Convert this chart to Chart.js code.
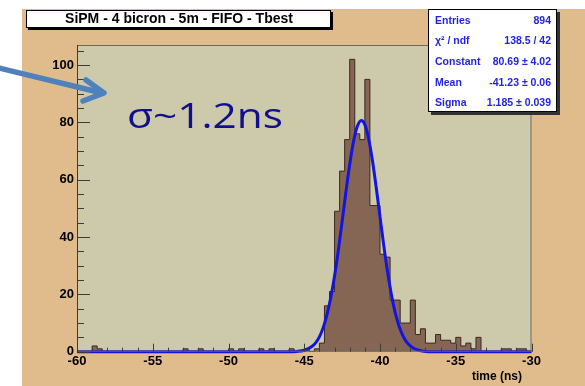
<!DOCTYPE html>
<html>
<head>
<meta charset="utf-8">
<script src="https://cdn.jsdelivr.net/npm/chart.js@4.4.1/dist/chart.umd.min.js"></script>
<style>
  html, body { margin: 0; padding: 0; background: #fff; }
  canvas { display: block; }
</style>
</head>
<body>
<canvas id="histo" width="585" height="386"></canvas>
<script>
// histogram: 90 bins of 1/3 ns between -60 and -30 ns
const binLow = -60;
const binWidth = 1 / 3;
const counts = [
  0, 0, 0, 2, 1, 0, 0, 0, 0, 0,
  0, 0, 0, 0, 0, 0, 0, 0, 0, 0,
  0, 1, 0, 0, 1, 0, 0, 0, 0, 0,
  1, 0, 1, 0, 0, 0, 1, 0, 1, 0,
  0, 0, 1, 0, 0, 1, 0, 1, 3, 16,
  21, 49, 63, 74, 102, 76, 74, 95, 51, 51,
  34, 33, 18, 18, 10, 10, 18, 6, 8, 3,
  3, 6, 4, 4, 3, 5, 2, 3, 1, 5,
  0, 0, 0, 0, 1, 1, 0, 1, 1, 0
];

// gaussian fit curve
const fitX = [-60, -47, -46, -45.5, -45, -44.5, -44.25, -44, -43.75, -43.5, -43.25, -43, -42.75, -42.5,
  -42.25, -42, -41.75, -41.5, -41.23, -41, -40.75, -40.5, -40.25, -40, -39.75, -39.5, -39.25, -39,
  -38.75, -38.5, -38.25, -38, -37.75, -37.5, -37, -36, -30];
const fitY = [0, 0, 0, 0.1, 0.5, 1.8, 3.1, 5.2, 8.4, 12.9, 18.9, 26.4, 35.4, 45.4,
  55.7, 65.3, 73.3, 78.6, 80.7, 79.2, 74.3, 66.7, 57.3, 47.1, 37.0, 27.8, 20.0, 13.7,
  9.0, 5.7, 3.4, 2.0, 1.1, 0.6, 0.1, 0, 0];

const xTicks = [-60, -55, -50, -45, -40, -35, -30];
const yTicks = [0, 20, 40, 60, 80, 100];

const titleText = 'SiPM - 4 bicron - 5m - FIFO - Tbest';
const statLabels = ['Entries', 'χ² / ndf', 'Constant', 'Mean', 'Sigma'];
const statValues = ['894', '138.5 / 42', '80.69 ± 4.02', '-41.23 ± 0.06', '1.185 ± 0.039'];

const padColor = '#e0bb8b';
const frameColor = '#cdc9ab';
const fontFam = '"Liberation Sans", Arial, sans-serif';

// bin edges -> stepped points
const histPoints = counts.map((c, i) => ({ x: binLow + i * binWidth, y: c }));
histPoints.push({ x: binLow + counts.length * binWidth, y: counts[counts.length - 1] });
const fitPoints = fitX.map((x, i) => ({ x: x, y: fitY[i] }));

function line(ctx, x1, y1, x2, y2) {
  ctx.beginPath(); ctx.moveTo(x1, y1); ctx.lineTo(x2, y2); ctx.stroke();
}

const rootStyle = {
  id: 'rootStyle',
  beforeDraw(chart) {
    const { ctx, chartArea: a } = chart;
    ctx.save();
    ctx.fillStyle = '#fff';
    ctx.fillRect(0, 0, chart.width, chart.height);
    ctx.fillStyle = padColor;
    ctx.fillRect(22, 9, chart.width - 22, chart.height - 9);
    ctx.fillStyle = frameColor;
    ctx.fillRect(a.left, a.top, a.right - a.left, a.bottom - a.top);
    ctx.restore();
  },
  afterDatasetsDraw(chart) {
    const { ctx, chartArea: a } = chart;
    const xs = chart.scales.x, ys = chart.scales.y;
    ctx.save();
    ctx.strokeStyle = '#6a6a5a';
    ctx.lineWidth = 1;
    ctx.strokeRect(a.left + 0.5, a.top + 0.5, a.right - a.left - 1, a.bottom - a.top - 1);
    ctx.strokeStyle = '#3c3c34';
    line(ctx, a.left + 0.5, a.top, a.left + 0.5, a.bottom);
    // ticks inside the frame, like ROOT
    for (let v = 0; v <= 105; v += 5) {
      const py = Math.round(ys.getPixelForValue(v)) + 0.5;
      line(ctx, a.left, py, a.left + (v % 20 === 0 ? 13 : 7), py);
    }
    for (let v = -60; v <= -30; v++) {
      const px = Math.round(xs.getPixelForValue(v)) + 0.5;
      line(ctx, px, a.bottom, px, a.bottom - (v % 5 === 0 ? 8 : 4));
    }
    ctx.restore();
  },
  afterDraw(chart) {
    const { ctx } = chart;
    ctx.save();

    // axis title
    ctx.fillStyle = '#000';
    ctx.font = 'bold 12px ' + fontFam;
    ctx.textAlign = 'right';
    ctx.textBaseline = 'middle';
    ctx.fillText('time (ns)', 522, 377);

    // title box
    ctx.fillStyle = '#000';
    ctx.fillRect(28, 12, 305, 18);
    ctx.fillStyle = '#fff';
    ctx.fillRect(26, 10, 305, 18);
    ctx.strokeStyle = '#000';
    ctx.strokeRect(26.5, 10.5, 304, 17);
    ctx.fillStyle = '#000';
    ctx.font = 'bold 14px ' + fontFam;
    ctx.textAlign = 'center';
    ctx.fillText(titleText, 179, 19.5);

    // stats box
    ctx.fillStyle = '#333';
    ctx.fillRect(431, 12, 129, 103);
    ctx.fillStyle = '#fff';
    ctx.fillRect(428, 9, 129, 103);
    ctx.strokeStyle = '#000';
    ctx.strokeRect(428.5, 9.5, 128, 102);
    ctx.fillStyle = '#2424e0';
    ctx.font = 'bold 10.5px ' + fontFam;
    statLabels.forEach((lab, i) => {
      const yy = 21 + i * 20.6;
      ctx.textAlign = 'left';
      ctx.fillText(lab, 435, yy);
      ctx.textAlign = 'right';
      ctx.fillText(statValues[i], 551, yy);
    });

    // annotation
    ctx.fillStyle = '#10108c';
    ctx.font = '34px "Open Sans", sans-serif';
    ctx.textAlign = 'left';
    ctx.textBaseline = 'alphabetic';
    const txt = 'σ~1.2ns';
    const w = ctx.measureText(txt).width;
    ctx.translate(127, 128);
    ctx.scale(156 / w, 1);
    ctx.fillText(txt, 0, 0);
    ctx.setTransform(1, 0, 0, 1, 0, 0);

    // arrow
    ctx.strokeStyle = '#4f81bd';
    ctx.lineWidth = 5.5;
    ctx.lineCap = 'round';
    ctx.lineJoin = 'round';
    line(ctx, -5, 67, 100, 92.5);
    ctx.beginPath();
    ctx.moveTo(86, 80);
    ctx.lineTo(104, 93);
    ctx.lineTo(83, 101);
    ctx.stroke();
    ctx.restore();
  }
};

new Chart(document.getElementById('histo'), {
  type: 'line',
  data: {
    datasets: [
      {
        label: 'fit',
        data: fitPoints,
        borderColor: '#1414e0',
        borderWidth: 3,
        pointRadius: 0,
        cubicInterpolationMode: 'monotone',
        fill: false,
        clip: 4,
        order: 0
      },
      {
        label: 'Tbest',
        data: histPoints,
        stepped: 'before',
        borderColor: '#3a2a20',
        borderWidth: 1,
        backgroundColor: '#856553',
        pointRadius: 0,
        fill: 'origin',
        order: 1
      }
    ]
  },
  options: {
    responsive: false,
    animation: false,
    devicePixelRatio: 1,
    layout: { padding: { top: 45, right: 53.5, left: 0, bottom: 0 } },
    plugins: { legend: { display: false }, tooltip: { enabled: false } },
    scales: {
      x: {
        type: 'linear',
        min: -60,
        max: -30,
        grid: { display: false, drawTicks: false },
        border: { display: false },
        afterBuildTicks: s => { s.ticks = xTicks.map(v => ({ value: v })); },
        afterFit: s => { s.height = 34.3; },
        ticks: {
          padding: 2,
          color: '#000',
          maxRotation: 0,
          font: { family: fontFam, weight: 'bold', size: 13 }
        }
      },
      y: {
        min: 0,
        max: 107,
        grid: { display: false, drawTicks: false },
        border: { display: false },
        afterBuildTicks: s => { s.ticks = yTicks.map(v => ({ value: v })); },
        afterFit: s => { s.width = 77; },
        ticks: {
          padding: 3,
          color: '#000',
          font: { family: fontFam, weight: 'bold', size: 13 }
        }
      }
    }
  },
  plugins: [rootStyle]
});
</script>
</body>
</html>
